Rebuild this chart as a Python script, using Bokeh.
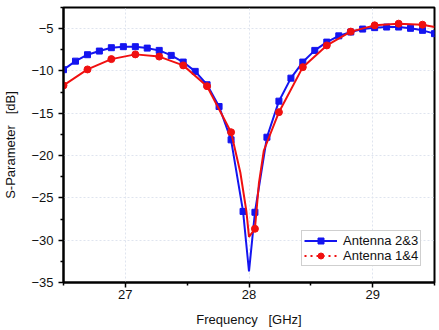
from bokeh.plotting import figure
from bokeh.models import FixedTicker, Legend, LegendItem, Range1d
from bokeh.embed import file_html
from bokeh.resources import INLINE

# ---- data ----
freq = [26.500, 26.597, 26.694, 26.790, 26.887, 26.984, 27.081, 27.177,
        27.274, 27.371, 27.468, 27.565, 27.661, 27.758, 27.855, 27.952,
        28.048, 28.145, 28.242, 28.339, 28.435, 28.532, 28.629, 28.726,
        28.823, 28.919, 29.016, 29.113, 29.210, 29.306, 29.403, 29.500]
s23 = [-9.85, -8.84, -8.08, -7.65, -7.25, -7.13, -7.13, -7.30,
       -7.57, -8.16, -8.95, -10.05, -11.63, -14.20, -18.14, -26.60,
       -26.70, -17.83, -13.57, -10.85, -8.95, -7.57, -6.59, -5.85,
       -5.40, -5.05, -4.88, -4.81, -4.81, -4.96, -5.20, -5.59]
# extra point of the blue curve at its notch
s23_line_freq = freq[:16] + [28.000] + freq[16:]
s23_line = s23[:16] + [-33.70] + s23[16:]

freq14 = [26.500, 26.694, 26.887, 27.081, 27.274, 27.468, 27.661, 27.855,
          28.048, 28.242, 28.435, 28.629, 28.823, 29.016, 29.210, 29.403]
s14 = [-11.71, -9.82, -8.60, -8.04, -8.30, -9.34, -11.80, -17.24,
       -28.65, -14.87, -9.55, -6.98, -5.35, -4.61, -4.41, -4.53]
s14_line_freq = [26.500, 26.694, 26.887, 27.081, 27.274, 27.468, 27.661, 27.855,
                 27.930, 27.979, 28.000, 28.048, 28.080, 28.120, 28.242, 28.435,
                 28.629, 28.823, 29.016, 29.210, 29.403, 29.500]
s14_line = [-11.71, -9.82, -8.60, -8.04, -8.30, -9.34, -11.80, -17.24,
            -22.00, -26.60, -29.60, -28.65, -23.30, -19.40, -14.87, -9.55,
            -6.98, -5.35, -4.61, -4.41, -4.53, -4.80]

x_ticks = [27, 28, 29]
x_minor = [26.5, 27.5, 28.5, 29.5]
y_ticks = [-35, -30, -25, -20, -15, -10, -5]
y_minor = [-32.5, -27.5, -22.5, -17.5, -12.5, -7.5, -2.5]

FONT = "Liberation Sans"
BLUE = "#1414f0"
RED = "#f01010"

p = figure(width=439, height=330, output_backend="svg", toolbar_location=None,
           x_range=Range1d(26.5, 29.5), y_range=Range1d(-35, -2.5))
p.min_border_left = 62
p.min_border_right = 5
p.min_border_top = 7
p.min_border_bottom = 48
p.outline_line_color = "black"
p.outline_line_width = 2
p.background_fill_color = "white"
p.border_fill_color = "white"

for ax in (p.xaxis[0], p.yaxis[0]):
    ax.axis_line_width = 2
    ax.axis_line_color = "black"
    ax.major_tick_line_width = 1.5
    ax.minor_tick_line_width = 1.5
    ax.major_tick_out = 5
    ax.major_tick_in = 0
    ax.minor_tick_out = 3
    ax.minor_tick_in = 0
    ax.major_label_text_font = FONT
    ax.major_label_text_font_size = "13px"
    ax.major_label_text_color = "#111111"
    ax.axis_label_text_font = FONT
    ax.axis_label_text_font_size = "13px"
    ax.axis_label_text_font_style = "normal"
    ax.axis_label_text_color = "#111111"

p.xaxis.ticker = FixedTicker(ticks=x_ticks, minor_ticks=x_minor)
p.yaxis.ticker = FixedTicker(ticks=y_ticks, minor_ticks=y_minor)
p.xaxis.axis_label = "Frequency\u00a0\u00a0\u00a0[GHz]"
p.yaxis.axis_label = "S-Parameter\u00a0\u00a0\u00a0[dB]"
p.xaxis.major_label_standoff = 2
p.yaxis.major_label_standoff = 5
p.xaxis.axis_label_standoff = 10
p.yaxis.axis_label_standoff = 10

for g in (p.xgrid[0], p.ygrid[0]):
    g.grid_line_color = "#dfe4ef"
    g.grid_line_dash = "2 2"
    g.grid_line_width = 1

bl = p.line(s23_line_freq, s23_line, line_color=BLUE, line_width=2)
bm = p.scatter(freq, s23, marker="square", size=6, fill_color=BLUE, line_color=BLUE)
rl = p.line(s14_line_freq, s14_line, line_color=RED, line_width=2)
rm = p.scatter(freq14, s14, marker="circle", size=7, fill_color=RED, line_color=RED)
# dotted styling of the same series, used for the legend key as in the reference
rkey = p.line(s14_line_freq, s14_line, line_color=RED, line_width=2,
              line_dash="2 4", visible=False)

legend = Legend(items=[LegendItem(label="Antenna 2&3", renderers=[bl, bm]),
                       LegendItem(label="Antenna 1&4", renderers=[rkey, rm])],
                location=(238, 16))
legend.label_text_font = FONT
legend.label_text_font_size = "13px"
legend.label_text_color = "#111111"
legend.border_line_color = "#a0a0a0"
legend.border_line_width = 1
legend.background_fill_alpha = 1
legend.padding = 2
legend.spacing = 0
legend.margin = 0
legend.glyph_width = 33
legend.glyph_height = 15
legend.label_height = 15
legend.label_standoff = 6
p.add_layout(legend, "center")

open("out.html", "w").write(file_html(p, INLINE))
